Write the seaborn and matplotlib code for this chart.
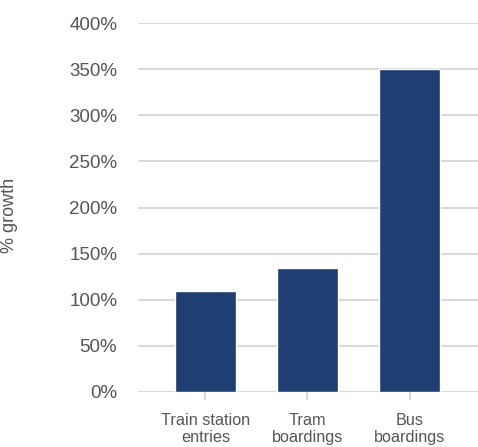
import matplotlib
matplotlib.use("Agg")
import matplotlib.pyplot as plt
import seaborn as sns
import pandas as pd
from matplotlib.ticker import FuncFormatter

categories = ["Train station\nentries", "Tram\nboardings", "Bus\nboardings"]
growth = [110, 134, 350]
yticks = [0, 50, 100, 150, 200, 250, 300, 350, 400]

df = pd.DataFrame({"category": categories, "growth": growth})

sns.set_theme(style="white")
plt.rcParams['font.family'] = ['Liberation Sans', 'DejaVu Sans']

fig = plt.figure(figsize=(4.78, 4.47), dpi=100)
ax = fig.add_axes([138/478, 55/447, (478-138)/478, (392-23)/447])

sns.barplot(data=df, x="category", y="growth", color="#1f3e72", width=0.6,
            saturation=1, ax=ax, zorder=3)

ax.set_ylim(0, 400)
ax.set_xlim(-0.66, 2.67)
ax.set_yticks(yticks)
ax.yaxis.set_major_formatter(FuncFormatter(lambda v, p: f"{int(v)}%"))
ax.grid(axis="y", color="#d9d9d9", linewidth=1.5, zorder=0)
ax.set_axisbelow(True)
for s in ax.spines.values():
    s.set_visible(False)

ax.tick_params(axis="y", length=0, pad=15, labelsize=13.5, labelcolor="#555555")
ax.tick_params(axis="x", length=6, width=1.2, color="#d0d0d0", direction="out",
               pad=9, labelsize=11.7, labelcolor="#555555")
ax.xaxis.set_ticks_position("bottom")
for lbl in ax.get_xticklabels():
    lbl.set_linespacing(1.15)

ax.set_xlabel("")
ax.set_ylabel("% growth", fontsize=13, color="#555555")
ax.yaxis.set_label_coords((18 - 138) / 340, (392 - 215) / 369)

fig.savefig("out.png", dpi=100)
